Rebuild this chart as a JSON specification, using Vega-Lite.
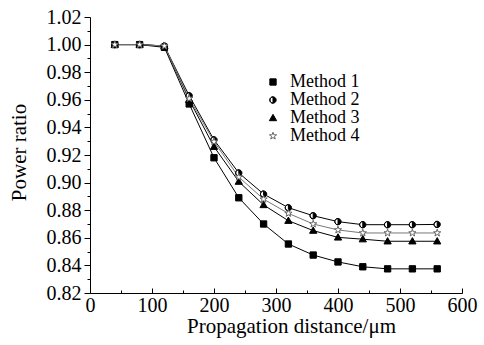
{
  "$schema": "https://vega.github.io/schema/vega-lite/v6.json",
  "width": 372,
  "height": 276,
  "autosize": {"type": "none"},
  "padding": {"left": 90, "top": 17, "right": 22, "bottom": 52},
  "background": "white",
  "config": {
    "view": {"stroke": null},
    "axis": {
      "labelFont": "Liberation Serif",
      "titleFont": "Liberation Serif",
      "labelColor": "black",
      "titleColor": "black",
      "domainColor": "black",
      "tickColor": "black",
      "grid": false,
      "titleFontWeight": "normal"
    },
    "legend": {
      "title": null,
      "orient": "none",
      "legendX": 174,
      "legendY": 56,
      "padding": 0,
      "labelFont": "Liberation Serif",
      "labelColor": "black",
      "labelFontSize": 18,
      "labelOffset": 8,
      "rowPadding": -6,
      "symbolSize": 40,
      "symbolStrokeWidth": 1
    }
  },
  "data": {
    "values": [
      {"d": 40, "v": 1.000, "Method": "Method 1"},
      {"d": 80, "v": 1.000, "Method": "Method 1"},
      {"d": 120, "v": 0.998, "Method": "Method 1"},
      {"d": 160, "v": 0.957, "Method": "Method 1"},
      {"d": 200, "v": 0.918, "Method": "Method 1"},
      {"d": 240, "v": 0.889, "Method": "Method 1"},
      {"d": 280, "v": 0.870, "Method": "Method 1"},
      {"d": 320, "v": 0.8555, "Method": "Method 1"},
      {"d": 360, "v": 0.8475, "Method": "Method 1"},
      {"d": 400, "v": 0.8425, "Method": "Method 1"},
      {"d": 440, "v": 0.839, "Method": "Method 1"},
      {"d": 480, "v": 0.8375, "Method": "Method 1"},
      {"d": 520, "v": 0.8375, "Method": "Method 1"},
      {"d": 560, "v": 0.8375, "Method": "Method 1"},
      {"d": 40, "v": 1.000, "Method": "Method 2"},
      {"d": 80, "v": 1.000, "Method": "Method 2"},
      {"d": 120, "v": 0.999, "Method": "Method 2"},
      {"d": 160, "v": 0.963, "Method": "Method 2"},
      {"d": 200, "v": 0.931, "Method": "Method 2"},
      {"d": 240, "v": 0.907, "Method": "Method 2"},
      {"d": 280, "v": 0.8917, "Method": "Method 2"},
      {"d": 320, "v": 0.8818, "Method": "Method 2"},
      {"d": 360, "v": 0.876, "Method": "Method 2"},
      {"d": 400, "v": 0.8717, "Method": "Method 2"},
      {"d": 440, "v": 0.8695, "Method": "Method 2"},
      {"d": 480, "v": 0.8695, "Method": "Method 2"},
      {"d": 520, "v": 0.8695, "Method": "Method 2"},
      {"d": 560, "v": 0.8697, "Method": "Method 2"},
      {"d": 40, "v": 1.000, "Method": "Method 3"},
      {"d": 80, "v": 1.000, "Method": "Method 3"},
      {"d": 120, "v": 0.999, "Method": "Method 3"},
      {"d": 160, "v": 0.960, "Method": "Method 3"},
      {"d": 200, "v": 0.926, "Method": "Method 3"},
      {"d": 240, "v": 0.9007, "Method": "Method 3"},
      {"d": 280, "v": 0.8838, "Method": "Method 3"},
      {"d": 320, "v": 0.8724, "Method": "Method 3"},
      {"d": 360, "v": 0.8652, "Method": "Method 3"},
      {"d": 400, "v": 0.8603, "Method": "Method 3"},
      {"d": 440, "v": 0.859, "Method": "Method 3"},
      {"d": 480, "v": 0.8575, "Method": "Method 3"},
      {"d": 520, "v": 0.8575, "Method": "Method 3"},
      {"d": 560, "v": 0.8575, "Method": "Method 3"},
      {"d": 40, "v": 1.000, "Method": "Method 4"},
      {"d": 80, "v": 1.000, "Method": "Method 4"},
      {"d": 120, "v": 0.999, "Method": "Method 4"},
      {"d": 160, "v": 0.961, "Method": "Method 4"},
      {"d": 200, "v": 0.9297, "Method": "Method 4"},
      {"d": 240, "v": 0.904, "Method": "Method 4"},
      {"d": 280, "v": 0.888, "Method": "Method 4"},
      {"d": 320, "v": 0.8777, "Method": "Method 4"},
      {"d": 360, "v": 0.870, "Method": "Method 4"},
      {"d": 400, "v": 0.8657, "Method": "Method 4"},
      {"d": 440, "v": 0.8635, "Method": "Method 4"},
      {"d": 480, "v": 0.8635, "Method": "Method 4"},
      {"d": 520, "v": 0.8635, "Method": "Method 4"},
      {"d": 560, "v": 0.8635, "Method": "Method 4"}
    ]
  },
  "resolve": {"axis": {"x": "independent", "y": "independent"}},
  "layer": [
    {
      "transform": [{"filter": "datum.Method !== 'Method 4'"}],
      "mark": {"type": "line", "strokeWidth": 1, "color": "black"},
      "encoding": {
        "x": {
          "field": "d", "type": "quantitative",
          "scale": {"domain": [0, 600], "nice": false, "zero": false},
          "axis": {
            "orient": "bottom",
            "values": [0, 100, 200, 300, 400, 500, 600],
            "tickSize": -5,
            "labelPadding": 7,
            "labelFont": "Liberation Serif",
            "labelFontSize": 20,
            "labelFlush": false,
            "title": "Propagation distance/μm",
            "titleFont": "Liberation Serif",
            "titleFontSize": 21,
            "titleX": 201,
            "titleY": 39,
            "titleBaseline": "alphabetic",
            "titleAlign": "center"
          }
        },
        "y": {
          "field": "v", "type": "quantitative",
          "scale": {"domain": [0.82, 1.02], "nice": false, "zero": false},
          "axis": {
            "orient": "left",
            "values": [0.82, 0.84, 0.86, 0.88, 0.90, 0.92, 0.94, 0.96, 0.98, 1.00, 1.02],
            "format": ".2f",
            "tickSize": 6,
            "labelPadding": 3,
            "labelFont": "Liberation Serif",
            "labelFontSize": 20,
            "labelFlush": false,
            "title": "Power ratio",
            "titleFont": "Liberation Serif",
            "titleFontSize": 21,
            "titleX": -65,
            "titleY": 135,
            "titleBaseline": "alphabetic",
            "titleAlign": "center",
            "titleAngle": 270
          }
        },
        "detail": {"field": "Method", "type": "nominal"}
      }
    },
    {
      "transform": [{"filter": "datum.Method === 'Method 4'"}],
      "mark": {"type": "line", "strokeWidth": 1, "color": "#777777"},
      "encoding": {
        "x": {"field": "d", "type": "quantitative", "axis": null},
        "y": {"field": "v", "type": "quantitative", "axis": null}
      }
    },
    {
      "transform": [{"filter": "datum.Method === 'Method 2'"}],
      "mark": {"type": "point", "filled": true, "shape": "circle", "size": 40, "fill": "white", "strokeWidth": 0, "opacity": 1},
      "encoding": {
        "x": {"field": "d", "type": "quantitative", "axis": null},
        "y": {"field": "v", "type": "quantitative", "axis": null}
      }
    },
    {
      "mark": {"type": "point", "filled": true, "size": 40, "strokeWidth": 1, "opacity": 1},
      "encoding": {
        "x": {
          "field": "d", "type": "quantitative",
          "axis": {"orient": "bottom", "values": [50, 150, 250, 350, 450, 550], "labels": false, "domain": false, "tickSize": -3, "title": null}
        },
        "y": {
          "field": "v", "type": "quantitative",
          "axis": {"orient": "left", "values": [0.83, 0.85, 0.87, 0.89, 0.91, 0.93, 0.95, 0.97, 0.99, 1.01], "labels": false, "domain": false, "tickSize": 3, "title": null}
        },
        "shape": {
          "field": "Method", "type": "nominal",
          "scale": {
            "domain": ["Method 1", "Method 2", "Method 3", "Method 4"],
            "range": [
              "M-1,-1H1V1H-1Z",
              "M0,-1A1,1 0 1,1 0,1A1,1 0 1,1 0,-1ZM0,-1A1,1 0 0,0 0,1Z",
              "M0,-1.15L1.15,0.85H-1.15Z",
              "M0,-1.2L0.28,-0.39L1.14,-0.37L0.46,0.15L0.71,0.97L0,0.48L-0.71,0.97L-0.46,0.15L-1.14,-0.37L-0.28,-0.39Z"
            ]
          }
        },
        "fill": {
          "field": "Method", "type": "nominal",
          "scale": {"domain": ["Method 1", "Method 2", "Method 3", "Method 4"], "range": ["black", "black", "black", "white"]}
        },
        "stroke": {
          "field": "Method", "type": "nominal",
          "scale": {"domain": ["Method 1", "Method 2", "Method 3", "Method 4"], "range": ["black", "black", "black", "#666666"]}
        }
      }
    }
  ]
}
